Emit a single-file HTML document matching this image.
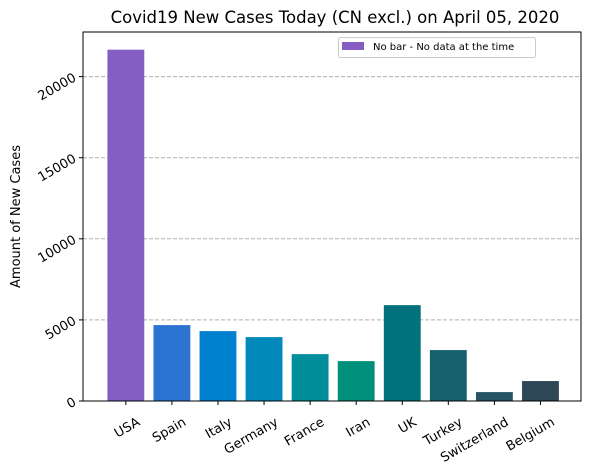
<!DOCTYPE html>
<html><head><meta charset="utf-8"><style>
body{margin:0;background:#fff;font-family:"DejaVu Sans","Liberation Sans",sans-serif;}
svg text{font-family:"DejaVu Sans","Liberation Sans",sans-serif;}
</style></head><body>
<svg id="chart" width="590" height="468" xmlns="http://www.w3.org/2000/svg"></svg>
<script>
const categories=["USA","Spain","Italy","Germany","France","Iran","UK","Turkey","Switzerland","Belgium"];
const values=[21660,4680,4310,3940,2890,2460,5910,3140,550,1230];
const colors=["#845EC2","#2C73D2","#0081CF","#0089BA","#008E9B","#008F7A","#00727B","#16616E","#285566","#2F4858"];
const yTicks=[0,5000,10000,15000,20000];
const L=83,R=581,T=32,B=401;
const xMin=-0.93,xMax=9.88,yMax=22750;
const sx=v=>L+(v-xMin)/(xMax-xMin)*(R-L);
const sy=v=>B-v/yMax*(B-T);
const svg=document.getElementById('chart');
const NS="http://www.w3.org/2000/svg";
function mk(t,a,p){const e=document.createElementNS(NS,t);for(const k in a)e.setAttribute(k,a[k]);(p||svg).appendChild(e);return e;}
yTicks.forEach(v=>{
  const y=sy(v);
  if(v>0){const g=mk('line',{x1:L,x2:R,y1:y,y2:y,stroke:'#b0b0b0','stroke-dasharray':'4,2'});
  
  }
  mk('line',{x1:L-4,x2:L,y1:y,y2:y,stroke:'#000'});
  const t=mk('text',{x:L-8,y:y+4,'font-size':13,'text-anchor':'end',transform:`rotate(-30 ${L-8} ${y})`});
  t.textContent=v;
  
  
});
categories.forEach((c,i)=>{
  const cx=sx(i),w=(sx(0.8)-sx(0));
  const r=mk('rect',{x:cx-w/2,y:sy(values[i]),width:w,height:B-sy(values[i]),fill:colors[i]});
  
  
  mk('line',{x1:cx,x2:cx,y1:B,y2:B+4,stroke:'#000'});
  const t=mk('text',{x:cx+13,y:B+24,'font-size':13,'text-anchor':'end',transform:`rotate(-30 ${cx+13} ${B+20})`});
  t.textContent=c;
  
  
});
const ax=mk('rect',{x:L,y:T,width:R-L,height:B-T,fill:'none',stroke:'#000','stroke-width':1});


const ti=mk('text',{x:(L+R)/2+3,y:23,'font-size':16.5,'text-anchor':'middle'});
ti.textContent="Covid19 New Cases Today (CN excl.) on April 05, 2020";


const yt=mk('text',{x:20,y:(T+B)/2,'font-size':13,'text-anchor':'middle',transform:`rotate(-90 20 ${(T+B)/2})`});
yt.textContent="Amount of New Cases";


const lg=mk('g',{});


mk('rect',{x:338.5,y:37.5,width:197,height:20,rx:2,fill:'#fff',stroke:'#ccc'},lg);
mk('rect',{x:342,y:42,width:22,height:8,fill:'#845EC2'},lg);
const lt=mk('text',{x:373,y:50,'font-size':10},lg);
lt.textContent="No bar - No data at the time";


</script>
</body></html>
